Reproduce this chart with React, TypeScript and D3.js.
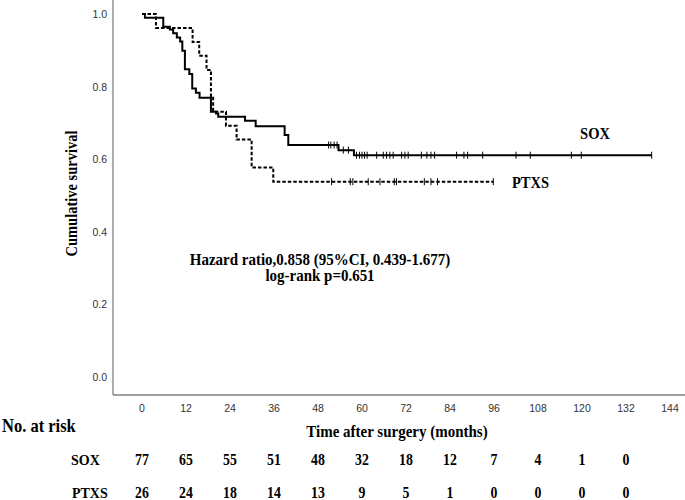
import React from 'react';
import * as d3 from 'd3';

const W = 685;
const H = 500;

const yTicks = [0, 0.2, 0.4, 0.6, 0.8, 1.0];
const xTicks = [0, 12, 24, 36, 48, 60, 72, 84, 96, 108, 120, 132, 144];

// SOX (solid) Kaplan-Meier steps
const soxEventTimes = [0.8, 5.8, 7.6, 8.5, 9.5, 10.4, 11.0, 11.7, 12.9, 13.7, 14.7, 15.7, 18.8, 20.2, 20.8, 28.1, 31.0, 38.9, 39.9, 53.6, 57.8];
const soxSurvival = [0.99, 0.965, 0.957, 0.947, 0.935, 0.924, 0.899, 0.848, 0.835, 0.795, 0.783, 0.769, 0.731, 0.726, 0.717, 0.706, 0.691, 0.667, 0.639, 0.625, 0.611];
const soxCensorTimes = [50.9, 51.5, 52.4, 53.2, 54.9, 56.3, 58.5, 59.3, 60.0, 60.7, 61.4, 64.0, 65.8, 66.7, 67.6, 68.5, 70.8, 71.7, 72.6, 76.2, 77.7, 78.8, 79.8, 85.8, 87.8, 88.8, 92.9, 102.0, 105.9, 117.1, 119.8, 139.0];
const soxEndTime = 139.0;

// PTXS (dashed) Kaplan-Meier steps
const ptxsEventTimes = [3.8, 13.8, 15.6, 17.6, 18.8, 19.4, 22.9, 25.8, 29.9, 35.8];
const ptxsSurvival = [0.9615, 0.923, 0.885, 0.846, 0.769, 0.731, 0.692, 0.654, 0.577, 0.538];
const ptxsCensorTimes = [51.7, 56.8, 57.5, 61.7, 64.9, 68.8, 69.4, 77.0, 78.8, 80.6, 95.8];
const ptxsEndTime = 95.8;

// Number at risk table
const riskTimes = [0, 12, 24, 36, 48, 60, 72, 84, 96, 108, 120, 132];
const soxAtRisk = [77, 65, 55, 51, 48, 32, 18, 12, 7, 4, 1, 0];
const ptxsAtRisk = [26, 24, 18, 14, 13, 9, 5, 1, 0, 0, 0, 0];

const SERIF = '"Liberation Serif", "Times New Roman", serif';
const SANS = '"Liberation Sans", Arial, sans-serif';

const x = d3.scaleLinear().domain([0, 144]).range([142, 670]);
const y = d3.scaleLinear().domain([0, 1]).range([377, 14]);

function stepPoints(times: number[], surv: number[], end: number): [number, number][] {
  const pts: [number, number][] = [[0, 1]];
  times.forEach((t, i) => pts.push([t, surv[i]]));
  pts.push([end, surv[surv.length - 1]]);
  return pts;
}

function survAt(times: number[], surv: number[], t: number): number {
  const i = d3.bisectRight(times, t);
  return i === 0 ? 1 : surv[i - 1];
}

const line = d3
  .line<[number, number]>()
  .x((d) => x(d[0]))
  .y((d) => y(d[1]))
  .curve(d3.curveStepAfter);

function SText(props: { x: number; y: number; size: number; sx?: number; anchor?: string; rotate?: number; children: React.ReactNode }) {
  const sx = props.sx ?? 0.9;
  const rot = props.rotate ? ` rotate(${props.rotate})` : '';
  return (
    <text
      transform={`translate(${props.x},${props.y})${rot} scale(${sx},1)`}
      textAnchor={props.anchor ?? 'start'}
      fontFamily={SERIF}
      fontWeight="bold"
      fontSize={props.size / sx}
      fill="#000"
    >
      {props.children}
    </text>
  );
}

export default function App() {
  const soxPath = line(stepPoints(soxEventTimes, soxSurvival, soxEndTime)) || '';
  const ptxsPath = line(stepPoints(ptxsEventTimes, ptxsSurvival, ptxsEndTime)) || '';
  const axisColor = '#808080';
  return (
    <svg width={W} height={H} style={{ position: 'absolute', left: 0, top: 0, background: '#fff' }}>
      <rect x={0} y={0} width={W} height={H} fill="#fff" />
      {/* axes */}
      <line x1={113} y1={0} x2={113} y2={395} stroke={axisColor} strokeWidth={1.3} />
      <line x1={113} y1={395} x2={685} y2={395} stroke={axisColor} strokeWidth={1.3} />
      {/* y tick labels */}
      {yTicks.map((v) => (
        <text key={v} x={107} y={y(v) + 4} textAnchor="end" fontFamily={SANS} fontSize={10.5} fill="#333">
          {v.toFixed(1)}
        </text>
      ))}
      {/* x tick labels */}
      {xTicks.map((t) => (
        <text key={t} x={x(t)} y={412} textAnchor="middle" fontFamily={SANS} fontSize={10.5} fill="#333">
          {t}
        </text>
      ))}
      {/* curves */}
      <path d={ptxsPath} fill="none" stroke="#000" strokeWidth={2} strokeDasharray="3.5,2" />
      <path d={soxPath} fill="none" stroke="#000" strokeWidth={2} />
      {soxCensorTimes.map((t, i) => {
        const s = survAt(soxEventTimes, soxSurvival, t);
        return <line key={'s' + i} x1={x(t)} x2={x(t)} y1={y(s) - 3.5} y2={y(s) + 3.5} stroke="#000" strokeWidth={1} />;
      })}
      {ptxsCensorTimes.map((t, i) => {
        const s = survAt(ptxsEventTimes, ptxsSurvival, t);
        return <line key={'p' + i} x1={x(t)} x2={x(t)} y1={y(s) - 3.5} y2={y(s) + 3.5} stroke="#000" strokeWidth={1} />;
      })}
      {/* curve labels */}
      <SText x={595} y={139} size={14.5} anchor="middle">SOX</SText>
      <SText x={530.5} y={188} size={14.5} anchor="middle">PTXS</SText>
      {/* statistics */}
      <SText x={320} y={265} size={15} sx={0.95} anchor="middle">Hazard ratio,0.858 (95%CI, 0.439-1.677)</SText>
      <SText x={320} y={281} size={15} sx={0.95} anchor="middle">log-rank p=0.651</SText>
      {/* axis titles */}
      <SText x={77} y={193.5} size={14.5} rotate={-90} anchor="middle">Cumulative survival</SText>
      <SText x={397} y={437} size={15} anchor="middle">Time after surgery (months)</SText>
      {/* risk table */}
      <SText x={2} y={432} size={16.5}>No. at risk</SText>
      <SText x={71} y={465} size={14}>SOX</SText>
      <SText x={72} y={498} size={14}>PTXS</SText>
      {riskTimes.map((t, i) => (
        <SText key={'rs' + t} x={x(t)} y={465} size={13.8} sx={0.85} anchor="middle">
          {soxAtRisk[i]}
        </SText>
      ))}
      {riskTimes.map((t, i) => (
        <SText key={'rp' + t} x={x(t)} y={498} size={13.8} sx={0.85} anchor="middle">
          {ptxsAtRisk[i]}
        </SText>
      ))}
    </svg>
  );
}
